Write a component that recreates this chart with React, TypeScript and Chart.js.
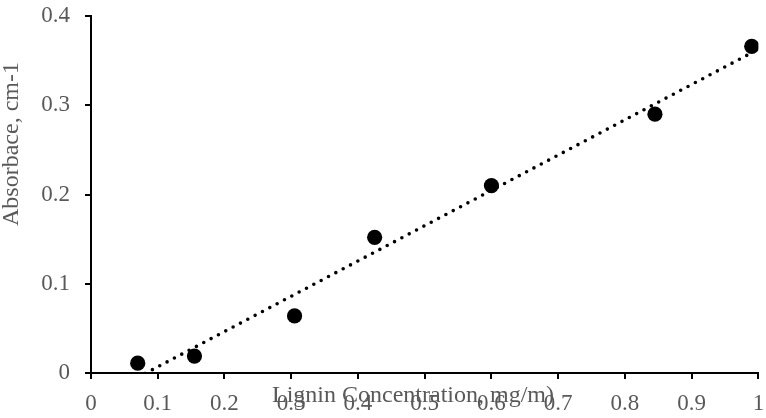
import React, { useEffect, useRef } from "react";
import { Chart, registerables } from "chart.js";

Chart.register(...registerables);

const xValues = [0.07, 0.155, 0.305, 0.425, 0.6, 0.845, 0.99];
const yValues = [0.011, 0.019, 0.064, 0.152, 0.21, 0.29, 0.366];
const xTickLabels = ["0", "0.1", "0.2", "0.3", "0.4", "0.5", "0.6", "0.7", "0.8", "0.9", "1"];
const yTickLabels = ["0", "0.1", "0.2", "0.3", "0.4"];
const xTitle = "Lignin Concentration, mg/m)";
const yTitle = "Absorbace, cm-1";

const GRAY = "#595959";
const FONT = "'Liberation Serif', 'Times New Roman', serif";

function linearFit(xs: number[], ys: number[]) {
  const n = xs.length;
  const mx = xs.reduce((a, b) => a + b, 0) / n;
  const my = ys.reduce((a, b) => a + b, 0) / n;
  let sxy = 0;
  let sxx = 0;
  for (let i = 0; i < n; i++) {
    sxy += (xs[i] - mx) * (ys[i] - my);
    sxx += (xs[i] - mx) * (xs[i] - mx);
  }
  const slope = sxy / sxx;
  return { slope, intercept: my - slope * mx };
}

const titlesPlugin = {
  id: "customTitles",
  afterDraw(chart: any) {
    const ctx = chart.ctx;
    ctx.save();
    ctx.fillStyle = GRAY;
    ctx.font = `24px ${FONT}`;
    ctx.textAlign = "center";
    ctx.textBaseline = "alphabetic";
    ctx.fillText(xTitle, 413, 402);
    ctx.translate(18, 144);
    ctx.rotate(-Math.PI / 2);
    ctx.fillText(yTitle, 0, 0);
    ctx.restore();
  },
};

export default function App() {
  const ref = useRef<HTMLCanvasElement>(null);
  useEffect(() => {
    if (!ref.current) return;
    const fit = linearFit(xValues, yValues);
    const xmin = Math.min(...xValues);
    const xmax = Math.max(...xValues);
    const trend = [
      { x: xmin, y: fit.intercept + fit.slope * xmin },
      { x: xmax, y: fit.intercept + fit.slope * xmax },
    ];
    const chart = new Chart(ref.current, {
      type: "scatter",
      data: {
        datasets: [
          {
            type: "line",
            data: trend,
            borderColor: "#000",
            borderWidth: 3.6,
            borderDash: [0, 8.3],
            borderCapStyle: "round",
            pointRadius: 0,
            fill: false,
            order: 2,
          } as any,
          {
            data: xValues.map((x, i) => ({ x, y: yValues[i] })),
            backgroundColor: "#000",
            borderColor: "#000",
            borderWidth: 0,
            pointRadius: 7.6,
            order: 1,
          },
        ],
      },
      options: {
        responsive: false,
        animation: false,
        events: [],
        layout: { padding: { top: 16, right: 4, left: 0, bottom: 0 } },
        plugins: { legend: { display: false }, tooltip: { enabled: false } },
        scales: {
          x: {
            type: "linear",
            min: 0,
            max: 1,
            afterFit: (s: any) => {
              s.height = 45;
              s.paddingLeft = 0;
              s.paddingRight = 0;
            },
            ticks: {
              stepSize: 0.1,
              color: GRAY,
              font: { family: FONT, size: 23 },
              padding: 11,
              maxRotation: 0,
              autoSkip: false,
              callback: (_v: any, i: number) => xTickLabels[i],
            },
            grid: { drawOnChartArea: false, drawTicks: true, tickLength: 6, color: "#000", lineWidth: 2 },
            border: { display: true, color: "#000", width: 2 },
          },
          y: {
            type: "linear",
            min: 0,
            max: 0.4,
            afterFit: (s: any) => {
              s.width = 91;
              s.paddingTop = 0;
              s.paddingBottom = 0;
            },
            ticks: {
              stepSize: 0.1,
              color: GRAY,
              font: { family: FONT, size: 23 },
              padding: 15,
              callback: (_v: any, i: number) => yTickLabels[i],
            },
            grid: { drawOnChartArea: false, drawTicks: true, tickLength: 6, color: "#000", lineWidth: 2 },
            border: { display: true, color: "#000", width: 2 },
          },
        },
      } as any,
      plugins: [titlesPlugin],
    });
    return () => chart.destroy();
  }, []);
  return (
    <div style={{ position: "fixed", left: 0, top: 0, width: 766, height: 418, background: "#fff" }}>
      <canvas ref={ref} width={766} height={418} style={{ width: 766, height: 418, display: "block" }} />
    </div>
  );
}
